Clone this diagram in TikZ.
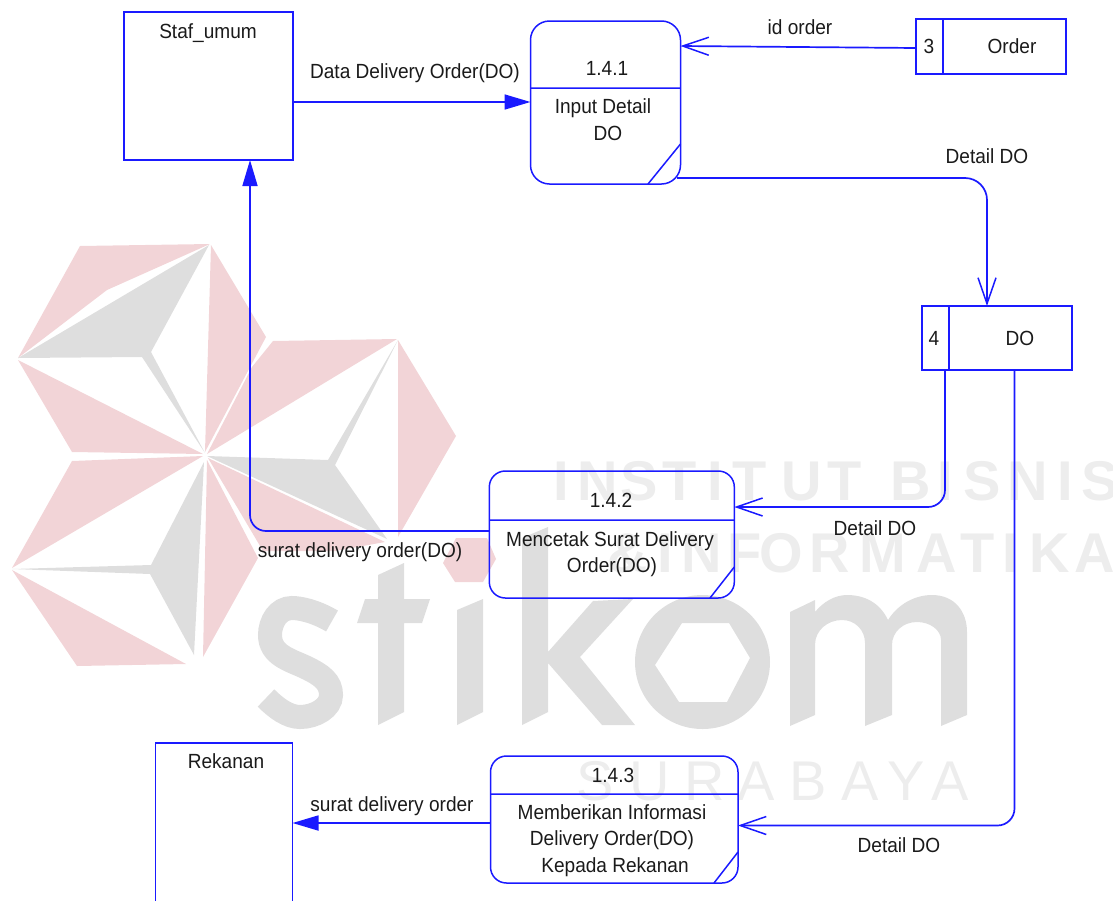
\documentclass[tikz,border=0pt]{standalone}
\usepackage{fontspec}
\setmainfont{Liberation Sans}
\newfontfamily\narrowfont[FakeStretch=0.93]{Liberation Sans}
\usetikzlibrary{arrows.meta}
\definecolor{wmred}{HTML}{F2D4D7}
\definecolor{wmgray}{HTML}{DEDEDE}
\definecolor{wmtext}{HTML}{EDEDED}
\definecolor{ink}{HTML}{1A1A1A}
\definecolor{lineblue}{HTML}{1A1AFF}
\tikzset{
  x=1pt,y=-1pt,
  txt/.style={anchor=base,inner sep=0pt,outer sep=0pt,text=ink,font=\narrowfont\fontsize{20.5}{20.5}\selectfont},
  wmbold/.style={anchor=base,inner sep=0pt,text=wmtext,font=\fontsize{56}{56}\selectfont\bfseries},
  wmthin/.style={anchor=base,inner sep=0pt,text=wmtext,font=\fontsize{56}{56}\selectfont},
  ent/.style={draw=lineblue,line width=1.5pt,inner sep=0pt,outer sep=0pt,anchor=north west},
  proc/.style={ent,rounded corners=19pt},
  proctwo/.style={ent,rounded corners=16pt},
  conn/.style={draw=lineblue,line width=1.7pt},
  barb/.style={-{Straight Barb[length=26pt,width=18pt,line width=1.5pt]}},
  solidtip/.style={-{Triangle[length=26pt,width=15pt]}},
  detail/.style={draw=lineblue,line width=1.5pt}
}
\begin{document}
\begin{tikzpicture}
\useasboundingbox (0,0) rectangle (1113,900);
\clip (0,0) rectangle (1113,900);
% watermark logo
\fill[wmred] (80,246)--(210,244)--(107,290)--(18,358)--cycle;
\fill[wmgray] (209,245)--(151,352)--(205,453)--(142,357)--(18,358)--cycle;
\fill[wmred] (211,245)--(266,337)--(205,452)--cycle;
\fill[wmred] (18,360)--(72,452)--(203,454)--cycle;
\fill[wmred] (273,341)--(397,339)--(207,454)--(252,367)--cycle;
\fill[wmgray] (207,456)--(328,460)--(398,340)--(335,465)--(387,539)--cycle;
\fill[wmred] (398,340)--(456,436)--(398,537)--cycle;
\fill[wmred] (208,458)--(385,542)--(335,551)--(263,551)--cycle;
\fill[wmred] (207,460)--(258,558)--(203,657)--cycle;
\fill[wmred] (72,461)--(203,456)--(12,568)--cycle;
\fill[wmred] (12,570)--(186,664)--(77,666)--cycle;
\fill[wmgray] (204,462)--(151,565)--(12,569)--(150,574)--(194,655)--cycle;
\fill[wmred] (456,538)--(487,538)--(496,559)--(483,582)--(455,582)--(443,563)--cycle;
% watermark stikom
\draw[wmgray,line width=24pt,line cap=butt]
  (332,621) .. controls (315,611) and (300,608) .. (292,608)
  .. controls (278,608) and (270,622) .. (270,635)
  .. controls (270,655) and (290,660) .. (305,667)
  .. controls (322,675) and (331,682) .. (331,695)
  .. controls (331,708) and (315,717) .. (300,717)
  .. controls (288,717) and (276,708) .. (266,698);
\fill[wmgray] (378,575)--(404,563)--(404,599)--(430,599)--(422,623)--(404,623)--(404,712)--(378,725)--(378,623)--(357,623)--(365,599)--(378,599)--cycle;
\fill[wmgray] (457,610)--(483,599)--(483,712)--(457,725)--cycle;
\fill[wmgray] (522,538)--(548,527)--(548,652)--(593,601)--(633,599)--(580,657)--(635,725)--(602,725)--(548,663)--(548,712)--(522,725)--cycle;
\fill[wmgray,even odd rule] (702.5,662) ellipse [x radius=67.5,y radius=67]
  (655,665)--(682,623)--(729,623)--(750,658)--(727,702)--(679,702)--cycle;
\fill[wmgray] (790,612)--(815,600)--(815,612) .. controls (823,602) and (835,595) .. (847,595)
  .. controls (865,595) and (880,603) .. (888,620)
  .. controls (898,604) and (915,595) .. (932,595)
  .. controls (955,595) and (967,612) .. (967,632)
  --(967,715)--(941,726)--(941,640) .. controls (941,630) and (930,622) .. (917,622)
  .. controls (903,622) and (892,632) .. (892,645)
  --(892,715)--(865,726)--(865,643) .. controls (865,630) and (855,620) .. (842,620)
  .. controls (828,620) and (815,630) .. (815,645)
  --(815,715)--(790,726)--cycle;
% watermark words
\foreach \c/\px [count=\n] in {I/561,N/598,S/639,T/680,I/715,T/750,U/802,T/845,B/911,I/945,S/982,N/1028,I/1065,S/1100}
  \node[wmbold] (wma\n) at (\px,500) {\c};
\foreach \c/\px [count=\n] in {\&/628,I/665,N/702,F/745,O/781,R/830,M/883,A/937,T/978,I/1010,K/1050,A/1095}
  \node[wmbold] (wmb\n) at (\px,572) {\c};
\foreach \c/\px [count=\n] in {S/595,U/650,R/705,A/756,B/808,A/860,Y/906,A/950}
  \node[wmthin] (wmc\n) at (\px,800) {\c};
% entities
\node[ent,minimum width=169pt,minimum height=148pt] (staf) at (124,12) {};
\node[ent,minimum width=137pt,minimum height=200pt] (rekanan) at (155.5,743) {};
% processes
\node[proc,minimum width=150pt,minimum height=163pt] (p1) at (530.5,21) {};
\node[proctwo,minimum width=245pt,minimum height=127pt] (p2) at (489.3,471) {};
\node[proctwo,minimum width=247.5pt,minimum height=127pt] (p3) at (490.5,756) {};
\coordinate (p1a) at (530.5,88); \coordinate (p1b) at (680.5,88);
\coordinate (p1c) at (680.5,144); \coordinate (p1d) at (648,184);
\coordinate (p2a) at (489.3,520); \coordinate (p2b) at (734.3,520);
\coordinate (p2c) at (734.3,567); \coordinate (p2d) at (710,598);
\coordinate (p3a) at (490.5,794); \coordinate (p3b) at (738,794);
\coordinate (p3c) at (738,852); \coordinate (p3d) at (714,883);
\draw[detail] (p1a)--(p1b) (p1c)--(p1d) (p2a)--(p2b) (p2c)--(p2d) (p3a)--(p3b) (p3c)--(p3d);
% stores
\node[ent,minimum width=150pt,minimum height=55pt] (s3) at (916,19) {};
\node[ent,minimum width=150pt,minimum height=64pt] (s4) at (922,306) {};
\coordinate (s3a) at (943,19); \coordinate (s3b) at (943,74);
\coordinate (s4a) at (949,306); \coordinate (s4b) at (949,370);
\draw[detail] (s3a)--(s3b) (s4a)--(s4b);
% connectors
\draw[conn,solidtip] (staf.east |- 0,102) -- (p1.west |- 0,102);
\draw[conn,barb] (s3.west |- 0,48) -- (p1.east |- 0,46);
\draw[conn,barb,rounded corners=22pt] (677,178) -- (987,178) -- (987,0 |- s4.north);
\draw[conn,barb,rounded corners=17pt] (945,0 |- s4.south) -- (945,507) -- (p2.east |- 0,507);
\draw[conn,barb,rounded corners=17pt] (1014.5,0 |- s4.south) -- (1014.5,825.5) -- (p3.east |- 0,825.5);
\draw[conn,solidtip,rounded corners=16pt] (p2.west |- 0,531) -- (250,531) -- (250,0 |- staf.south);
\draw[conn,solidtip] (p3.west |- 0,823) -- (rekanan.east |- 0,823);
% texts
\node[txt] (t1) at (208,38) {Staf\_umum};
\node[txt] (t2) at (415,78) {Data Delivery Order(DO)};
\node[txt] (t3) at (607,75) {1.4.1};
\node[txt] (t4) at (603,113) {Input Detail};
\node[txt] (t5) at (608,140) {DO};
\node[txt] (t6) at (800,34) {id order};
\node[txt] (t7) at (929,53) {3};
\node[txt] (t8) at (1012,53) {Order};
\node[txt] (t9) at (987,163) {Detail DO};
\node[txt] (t10) at (934,345) {4};
\node[txt] (t11) at (1020,345) {DO};
\node[txt] (t12) at (611,507) {1.4.2};
\node[txt] (t13) at (610,546) {Mencetak Surat Delivery};
\node[txt] (t14) at (612,572) {Order(DO)};
\node[txt] (t15) at (875,535) {Detail DO};
\node[txt] (t16) at (360,557) {surat delivery order(DO)};
\node[txt] (t17) at (226,768) {Rekanan};
\node[txt] (t18) at (392,811) {surat delivery order};
\node[txt] (t19) at (613,782) {1.4.3};
\node[txt] (t20) at (612,819) {Memberikan Informasi};
\node[txt] (t21) at (612,845) {Delivery Order(DO)};
\node[txt] (t22) at (615,872) {Kepada Rekanan};
\node[txt] (t23) at (899,852) {Detail DO};
\end{tikzpicture}
\end{document}
